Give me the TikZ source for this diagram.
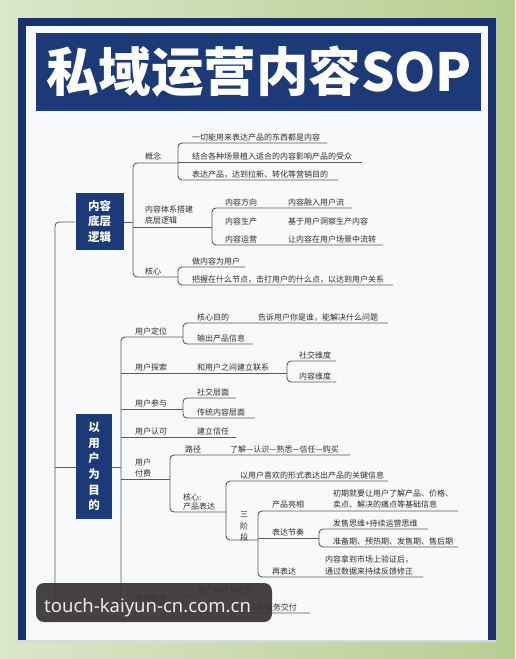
\documentclass[tikz,border=0pt]{standalone}
\usepackage{fontspec}
\setmainfont{Noto Sans CJK SC}
\newfontfamily\wmfont{Noto Sans}
\definecolor{navy}{HTML}{1C3A78}
\definecolor{framenavy}{HTML}{1A3170}
\definecolor{paper}{HTML}{F8F9FA}
\definecolor{lncol}{HTML}{5A5A5A}
\definecolor{txt}{HTML}{2E2E2E}
\definecolor{bgL}{HTML}{DAE7CA}
\definecolor{bgR}{HTML}{B7CE92}
\definecolor{wmbg}{HTML}{3A3437}
\definecolor{wmtxt}{HTML}{E4EEE6}
\begin{document}
\begin{tikzpicture}[x=1pt,y=-1pt,
  ln/.style={draw=lncol,line width=0.9pt,rounded corners=4pt},
  t/.style={anchor=base west,inner sep=0pt,text=txt,font=\fontsize{8}{10}\selectfont},
  box/.style={fill=navy,text=white,inner sep=0pt,align=center,font=\bfseries\fontsize{11.5}{15.7}\selectfont}]
\useasboundingbox (0,0) rectangle (515,659);
% background
\shade[left color=bgL,right color=bgR] (0,0) rectangle (515,659);
\fill[framenavy] (18,18) rectangle (496,640);
\fill[paper] (26,26) rectangle (488,640);
\fill[black!15] (18,640) rectangle (496,642);
% title
\node[fill=navy,minimum width=445pt,minimum height=78pt,inner sep=0pt] (title) at (258.5,72) {};
\node[text=white,inner sep=0pt,font=\bfseries\fontsize{52.5}{58}\selectfont] (titletext) at (259,72) {私域运营内容SOP};

% ================= section 1 =================
\node[box,minimum width=48pt,minimum height=57pt] (b1) at (99.5,221.5) {内容\\底层\\逻辑};
\draw[ln] (b1.west |- 0,222) -- (55,222) -- (55,620);
\draw[ln] (b1.east |- 0,222) -- (133,222);
\draw[ln] (178,163) -- (133,163) -- (133,277) -- (178,277);
\draw[ln] (133,227) -- (212,227);

\node[t] (gn) at (145,159) {概念};
\draw[ln] (327,143) -- (178,143) -- (178,180) -- (338,180);
\draw[ln] (178,162) -- (362,162);
\node[t] (gn1) at (192,140) {一切能用来表达产品的东西都是内容};
\node[t] (gn2) at (192,159) {结合各种场景植入适合的内容影响产品的受众};
\node[t] (gn3) at (192,177) {表达产品，达到拉新、转化等营销目的};

\node[t] (tx1) at (145,212) {内容体系搭建};
\node[t] (tx2) at (145,223) {底层逻辑};
\draw[ln] (352,208) -- (212,208) -- (212,245) -- (383,245);
\node[t] (fx) at (225,205) {内容方向};
\node[t] (fx2) at (288,205) {内容融入用户流};
\node[t] (sc) at (225,224) {内容生产};
\node[t] (sc2) at (288,224) {基于用户洞察生产内容};
\node[t] (yy) at (225,242) {内容运营};
\node[t] (yy2) at (288,242) {让内容在用户场景中流转};

\node[t] (hx) at (145,274) {核心};
\draw[ln] (245,267) -- (178,267) -- (178,285) -- (393,285);
\node[t] (hx1) at (192,264) {做内容为用户};
\node[t] (hx2) at (192,282) {把握在什么节点，击打用户的什么点，以达到用户关系};

% ================= section 2 =================
\node[box,minimum width=36pt,minimum height=105pt] (b2) at (94,466.5) {以\\用\\户\\为\\目\\的};
\draw[ln] (55,467) -- (b2.west |- 0,467);
\draw[ln] (b2.east |- 0,467) -- (121,467);
\draw[ln] (183,337) -- (121,337) -- (121,604) -- (183,604);

% 用户定位
\node[t] (dw) at (135,334) {用户定位};
\draw[ln] (388,323) -- (183,323) -- (183,344) -- (253,344);
\node[t] (dw1) at (197,320) {核心目的};
\node[t] (dw1b) at (258,320) {告诉用户你是谁，能解决什么问题};
\node[t] (dw2) at (197,341) {输出产品信息};

% 用户探索
\node[t] (ts) at (135,370) {用户探索};
\draw[ln] (121,373) -- (287,373);
\node[t] (ts1) at (197,370) {和用户之间建立联系};
\draw[ln] (336,361) -- (287,361) -- (287,382) -- (336,382);
\node[t] (ts2) at (299,358) {社交维度};
\node[t] (ts3) at (299,379) {内容维度};

% 用户参与
\node[t] (cy) at (135,406) {用户参与};
\draw[ln] (121,409) -- (183,409);
\draw[ln] (236,398) -- (183,398) -- (183,418) -- (255,418);
\node[t] (cy1) at (197,395) {社交层面};
\node[t] (cy2) at (197,415) {传统内容层面};

% 用户认可
\node[t] (rk) at (135,434) {用户认可};
\draw[ln] (121,437) -- (236,437);
\node[t] (rk1) at (197,434) {建立信任};

% 用户付费
\node[t] (ff1) at (135,465) {用户};
\node[t] (ff2) at (135,476) {付费};
\draw[ln] (121,479) -- (170,479);
\draw[ln] (350,455) -- (170,455) -- (170,512) -- (226,512);
\node[t] (lj) at (185,452) {路径};
\node[t] (lj2) at (230,452) {了解—认识—熟悉—信任—购买};
\node[t] (hc1) at (183,500) {核心:};
\node[t] (hc2) at (183,509) {产品表达};
\draw[ln] (388,481) -- (226,481) -- (226,540) -- (258,540);
\node[t] (gj) at (240,478) {以用户喜欢的形式表达出产品的关键信息};
\node[t] (sj1) at (240,517) {三};
\node[t] (sj2) at (240,529) {阶};
\node[t] (sj3) at (240,540) {段};
\draw[ln] (458,511) -- (258,511) -- (258,577) -- (423,577);
\draw[ln] (258,538) -- (319,538);
\node[t] (lx) at (272,507) {产品亮相};
\node[t] (lxa) at (333,496) {初期就要让用户了解产品、价格、};
\node[t] (lxb) at (333,507) {卖点、解决的痛点等基础信息};
\node[t] (jz) at (272,535) {表达节奏};
\draw[ln] (428,529) -- (319,529) -- (319,547) -- (458,547);
\node[t] (jz1) at (333,526) {发售思维+持续运营思维};
\node[t] (jz2) at (333,544) {准备期、预热期、发售期、售后期};
\node[t] (zb) at (272,574) {再表达};
\node[t] (zba) at (325,562) {内容拿到市场上验证后，};
\node[t] (zbb) at (325,574) {通过数据来持续反馈修正};

% 用户推荐
\node[t] (tj) at (135,601) {用户推荐};
\draw[ln] (263,595) -- (183,595) -- (183,613) -- (310,613);
\node[t] (tj1) at (197,592) {用户自荐和他荐};
\node[t,anchor=base east] (tj2) at (297,610) {产品及服务交付};

% watermark
\fill[wmbg,opacity=0.93,rounded corners=8pt] (36,583) rectangle (272,622);
\node[anchor=base west,inner sep=0pt,text=wmtxt,font=\wmfont\fontsize{18.5}{20}\selectfont] (wm) at (44,612) {touch-kaiyun-cn.com.cn};
\end{tikzpicture}
\end{document}
